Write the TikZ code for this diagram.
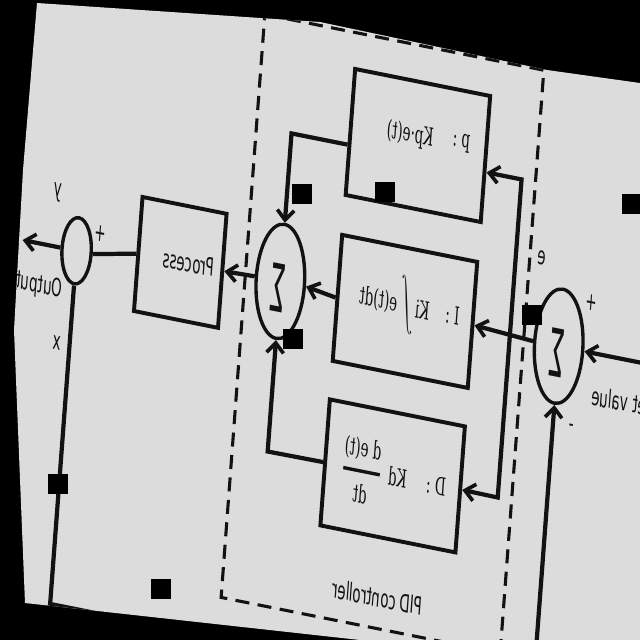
\documentclass[tikz,border=0pt]{standalone}
\usepackage{fontspec}
\setmainfont{DejaVu Serif}
\setsansfont{DejaVu Sans}
\usepackage{tikz}
\usetikzlibrary{shapes.geometric, arrows.meta, calc}
\definecolor{paper}{RGB}{220,220,220}
\definecolor{ink}{RGB}{18,18,18}
\tikzset{
  blk/.style={draw=ink, line width=2.8pt, minimum width=3.375cm, minimum height=3.15cm,
    inner sep=0pt, transform shape},
  sumnode/.style={ellipse, draw=ink, line width=2.4pt, minimum width=1.2cm, minimum height=2.85cm,
    inner sep=0pt, transform shape},
  sig/.style={font=\sffamily\fontsize{13}{15}\selectfont, text=ink, xscale=-1.4, yscale=3.6,
    inner sep=0pt, transform shape},
  lbl/.style={font=\sffamily\fontsize{9.5}{11}\selectfont, text=ink, xscale=-1, yscale=1.85,
    inner sep=0pt, transform shape},
  fml/.style={font=\fontsize{9.5}{11}\selectfont, text=ink, xscale=-1, yscale=1.85,
    inner sep=0pt, transform shape},
  arr/.style={-{Straight Barb[length=7pt, width=12pt, line width=2.6pt]}, line width=3pt, draw=ink},
  wire/.style={line width=3pt, draw=ink},
  pidbox/.style={draw=ink, line width=2.2pt, dash pattern=on 10pt off 6pt},
  blot/.style={fill=black},
}

\begin{document}
\begin{tikzpicture}[x=0.025cm, y=-0.025cm]
  \useasboundingbox (0,0) rectangle (640,640);
  \fill[black] (0,0) rectangle (640,640);
  \fill[paper] (37,3) -- (320,22) -- (547,70) -- (640,83) -- (640,640) -- (360,640)
    -- (25,603) -- (14,330) -- (23,170) -- cycle;
  \begin{scope}
    \clip (37,3) -- (320,22) -- (547,70) -- (640,83) -- (640,640) -- (360,640)
      -- (25,603) -- (14,330) -- (23,170) -- cycle;
    \begin{scope}[cm={1,-0.2,0.075,1,(0,0)}]
      % blocks
      \node[blk] (P) at (422.5,61) {};
      \node[blk] (I) at (422,227) {};
      \node[blk] (D) at (422,391.5) {};
      \node[blk, minimum width=2.1cm, minimum height=2.85cm] (proc) at (197,223) {};
      \node[sumnode] (sumM) at (297,222) {};
      \node[sumnode] (sumR) at (576,231) {};
      \node[sumnode, minimum width=0.725cm, minimum height=1.65cm] (circ) at (94,232) {};
      \node[sig] (sgM) at (295,229) {Σ};
      \node[sig] (sgR) at (575,238) {Σ};

      \coordinate (sv) at (700,231);
      \coordinate (bus) at (527,229);
      \coordinate (pc) at (527,74);
      \coordinate (dc) at (527,392);
      \coordinate (pm) at (297,74);
      \coordinate (dm) at (297,392);
      \coordinate (out) at (40,232);
      \coordinate (fbl) at (94,585);
      \coordinate (fbr) at (576,585);

      % signal paths
      \draw[arr] (sv) -- (sumR.east);
      \draw[arr] (sumR.west) -- (I.east);
      \draw[arr] (bus) -- (pc) -- ($(P.north east)!0.6!(P.south east)$);
      \draw[arr] (bus) -- (dc) -- (D.east);
      \draw[arr] ($(P.north west)!0.6!(P.south west)$) -- (pm) -- (sumM.north);
      \draw[arr] (I.west) -- (sumM.east);
      \draw[arr] (D.west) -- (dm) -- (sumM.south);
      \draw[arr] (sumM.west) -- (proc.east);
      \draw[wire] (proc.west) -- (circ.east);
      \draw[arr] (circ.west) -- (out);
      \draw[arr] (circ.south) -- (fbl) -- (fbr) -- (sumR.south);

      \draw[pidbox] (262,-38) -- (541,-38) -- (541,545) -- (262,545) -- cycle;

      % texts
      \node[fml] (pl) at (465,50) {p :};
      \node[fml] (pf) at (414,52) {Kp·e(t)};
      \node[fml] (il) at (469,221) {I :};
      \node[fml] (ik) at (439,222) {Ki};
      \node[fml, font=\fontsize{15}{17}\selectfont] (iint) at (423.5,220) {$\displaystyle\int$};
      \node[fml] (ie) at (395,221) {e(t)dt};
      \node[fml] (dl) at (465.5,393) {D :};
      \node[fml] (dk) at (427,392.5) {Kd};
      \node[fml] (dfr) at (391,393) {\renewcommand\arraystretch{1.5}\setlength\arrayrulewidth{1.3pt}%
        \begin{tabular}{@{}c@{}}d e(t)\\\hline dt\end{tabular}};
      \node[lbl] (pt) at (205,222) {Process};
      \node[lbl] (ctl) at (416,514) {PID controller};
      \node[lbl] (outl) at (59.5,274) {Output};
      \node[lbl, anchor=east] (setl) at (612,273) {Set value};
      \node[lbl] (yl) at (71,178) {y};
      \node[lbl] (xl) at (81.5,327) {x};
      \node[lbl] (pl1) at (116,210) {+};
      \node[lbl] (el) at (553,147) {e};
      \node[lbl] (pl2) at (605.6,182) {+};
      \node[lbl] (ml) at (595,309) {-};
    \end{scope}
  \end{scope}
  \foreach \sx/\sy in {292/184, 375/182, 622/194, 522/305, 283/329, 48/474, 151/579}
    \fill[blot] (\sx,\sy) rectangle ++(20,20);
\end{tikzpicture}
\end{document}
